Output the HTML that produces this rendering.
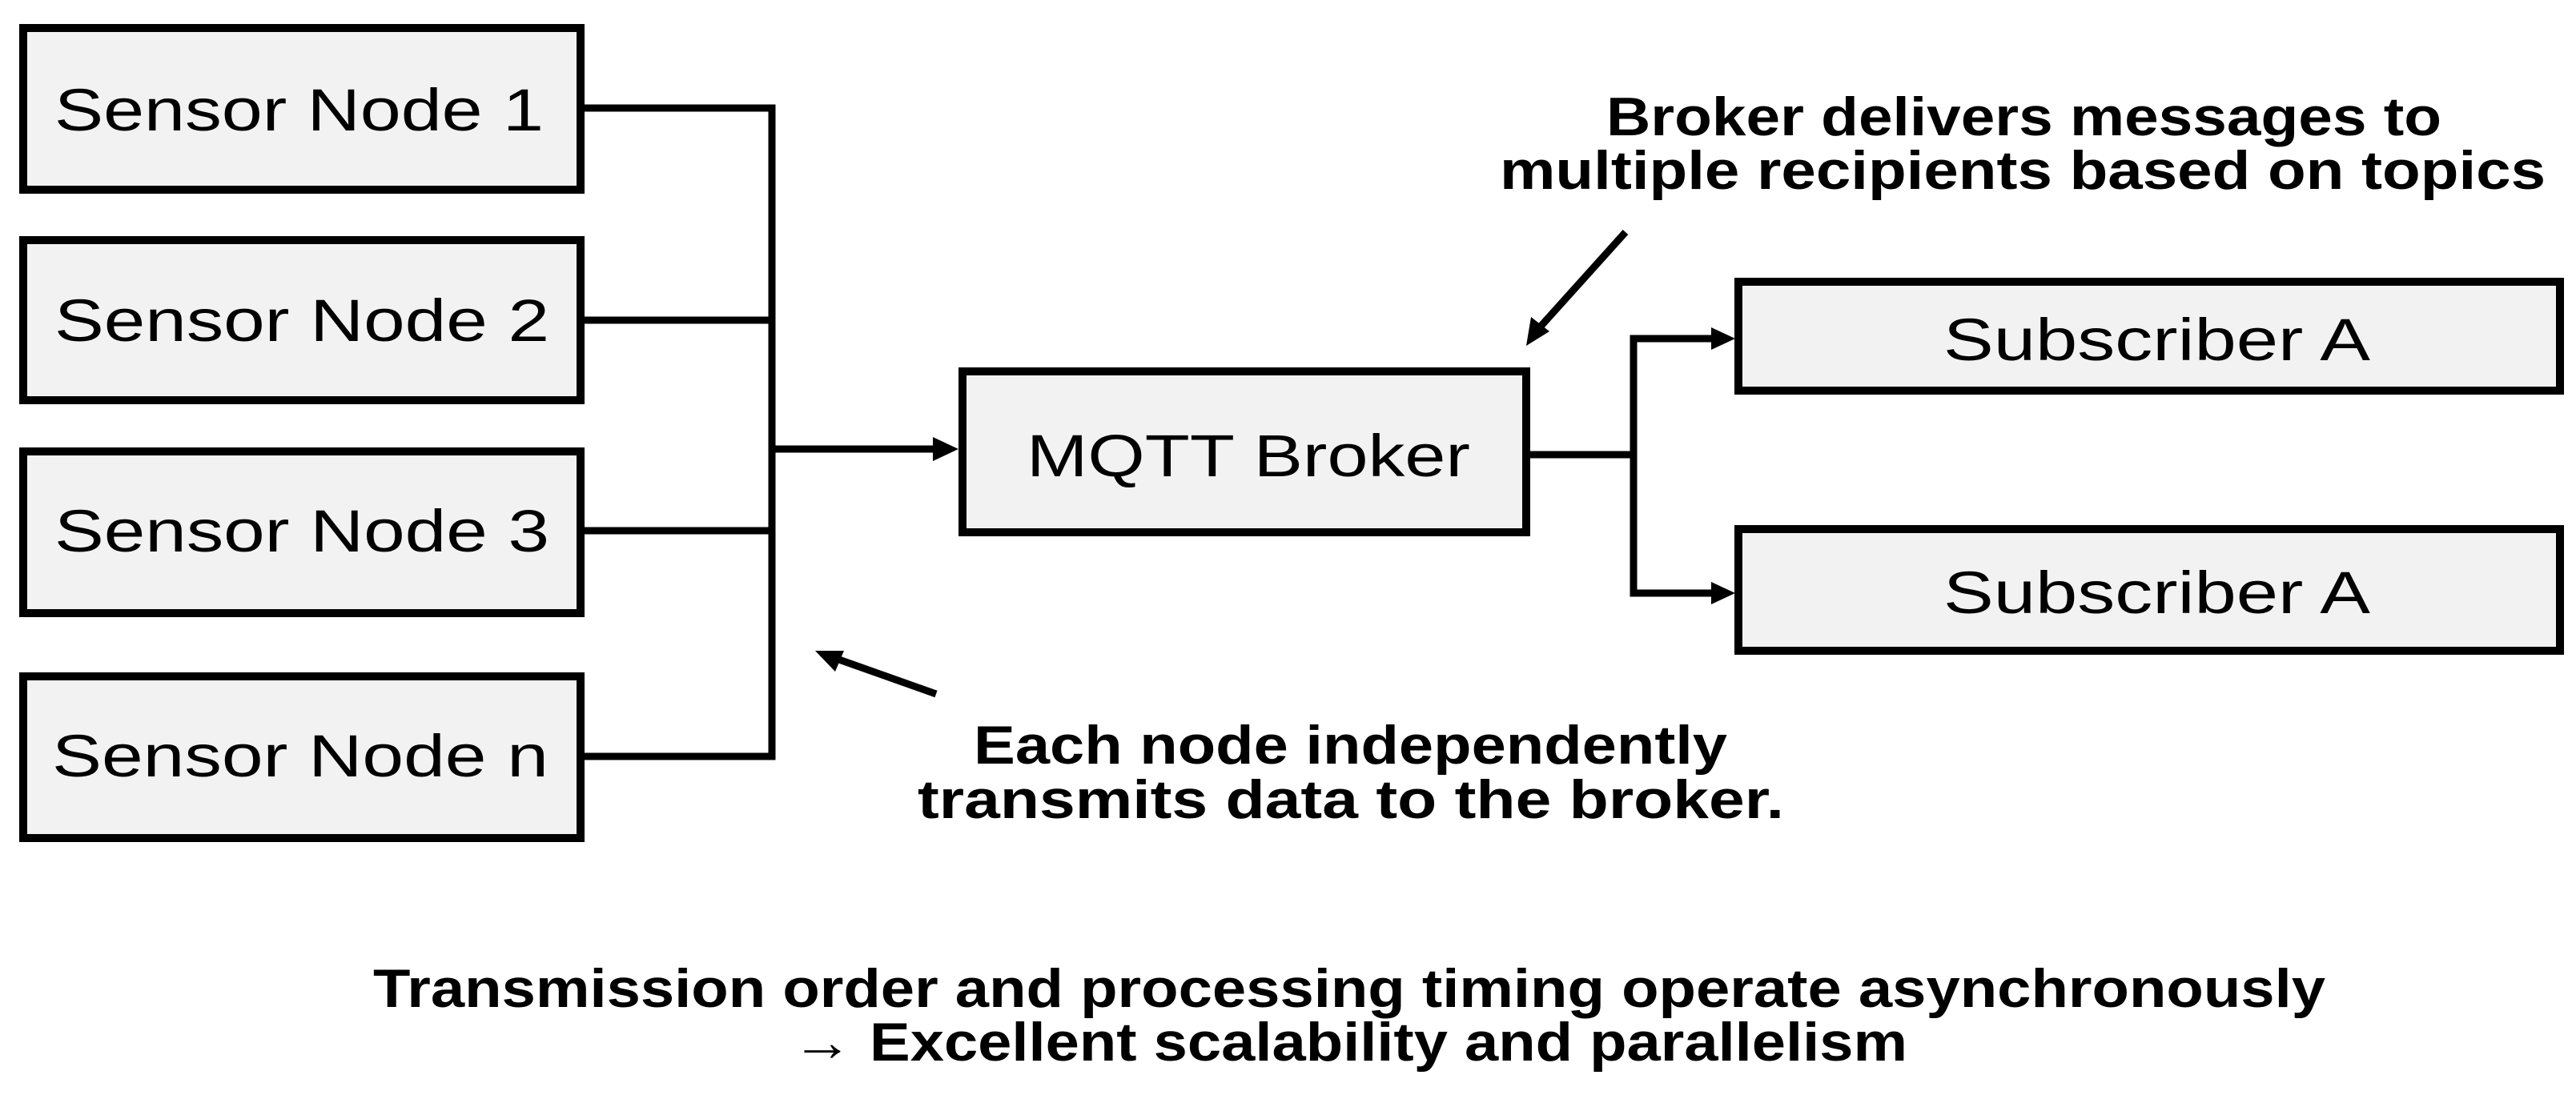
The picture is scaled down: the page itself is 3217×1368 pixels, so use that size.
<!DOCTYPE html>
<html><head><meta charset="utf-8"><style>html,body{margin:0;padding:0;background:#fff}svg{display:block}</style></head>
<body>
<svg width="3217" height="1368" viewBox="0 0 3217 1368" xmlns="http://www.w3.org/2000/svg">
<g fill="#f2f2f2" stroke="#000" stroke-width="10">
<rect x="29" y="35" width="696" height="202"/>
<rect x="29" y="300" width="696" height="200"/>
<rect x="29" y="564" width="696" height="202"/>
<rect x="29" y="845" width="696" height="202"/>
<rect x="1202" y="464" width="704" height="201"/>
<rect x="2171" y="352" width="1026" height="136"/>
<rect x="2171" y="661" width="1026" height="152"/>
</g>
<g stroke="#000" stroke-width="9" fill="none">
<polyline points="730,135 964,135 964,945 730,945"/>
<line x1="730" y1="400" x2="964" y2="400"/>
<line x1="730" y1="663" x2="964" y2="663"/>
<line x1="964" y1="561" x2="1170" y2="561"/>
<polyline points="1911,568 2040,568 2040,741 2140,741"/>
<polyline points="2040,568 2040,423 2140,423"/>
<line x1="1169" y1="867" x2="1045" y2="823"/>
<line x1="2030" y1="290" x2="1922" y2="410"/>
</g>
<g fill="#000">
<path d="M1197,561 L1165,546 L1165,576 z"/>
<path d="M2167,423 L2137,409 L2137,437 z"/>
<path d="M2167,741 L2137,727 L2137,755 z"/>
<path d="M1018,813 L1054,813 L1043,839 z"/>
<path d="M1906,432 L1912,396 L1935,414 z"/>
</g>
<g font-family="Liberation Sans, sans-serif" font-size="74" fill="#000">
<text x="68" y="163" textLength="611" lengthAdjust="spacingAndGlyphs">Sensor Node 1</text>
<text x="68" y="426" textLength="618" lengthAdjust="spacingAndGlyphs">Sensor Node 2</text>
<text x="68" y="689" textLength="618" lengthAdjust="spacingAndGlyphs">Sensor Node 3</text>
<text x="65" y="970" textLength="620" lengthAdjust="spacingAndGlyphs">Sensor Node n</text>
<text x="1282" y="595" textLength="554" lengthAdjust="spacingAndGlyphs">MQTT Broker</text>
<text x="2427" y="450" textLength="533" lengthAdjust="spacingAndGlyphs">Subscriber A</text>
<text x="2427" y="766" textLength="533" lengthAdjust="spacingAndGlyphs">Subscriber A</text>
</g>
<g font-family="Liberation Sans, sans-serif" font-size="68" font-weight="bold" fill="#000">
<text x="2006" y="169" textLength="1043" lengthAdjust="spacingAndGlyphs">Broker delivers messages to</text>
<text x="1873" y="236" textLength="1306" lengthAdjust="spacingAndGlyphs">multiple recipients based on topics</text>
<text x="1216" y="954" textLength="941" lengthAdjust="spacingAndGlyphs">Each node independently</text>
<text x="1146" y="1022" textLength="1082" lengthAdjust="spacingAndGlyphs">transmits data to the broker.</text>
<text x="466" y="1258" textLength="2438" lengthAdjust="spacingAndGlyphs">Transmission order and processing timing operate asynchronously</text>
<text x="989" y="1325" textLength="1393" lengthAdjust="spacingAndGlyphs">→ Excellent scalability and parallelism</text>
</g>
</svg>
</body></html>
